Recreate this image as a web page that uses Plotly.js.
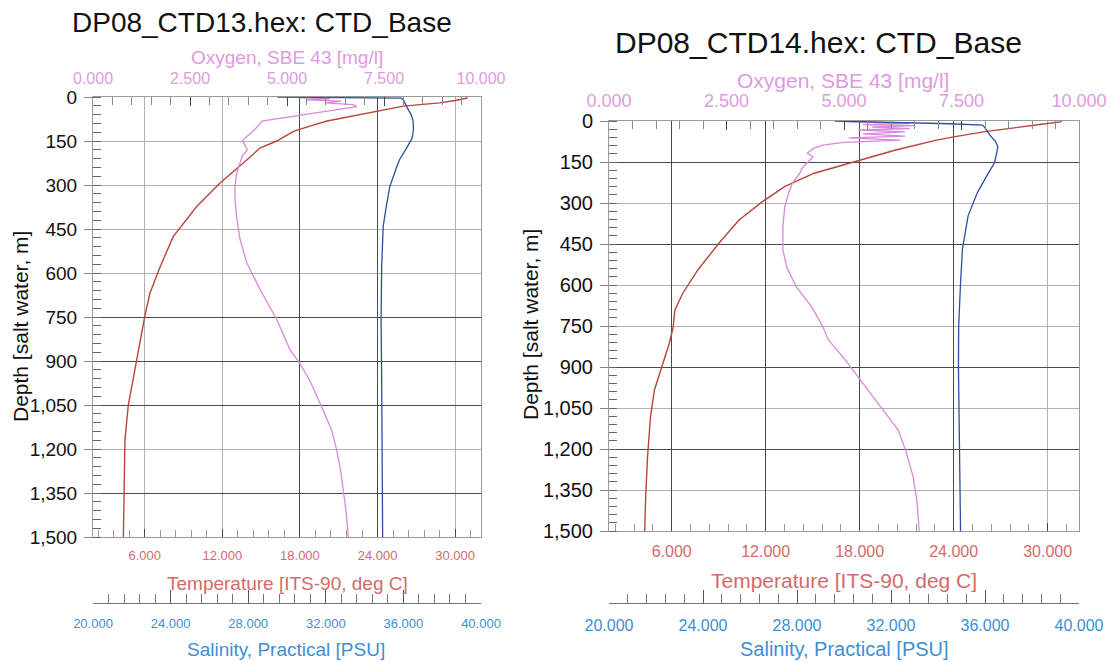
<!DOCTYPE html>
<html>
<head>
<meta charset="utf-8">
<script src="https://cdn.plot.ly/plotly-3.0.1.min.js"></script>
<style>
html, body { margin: 0; padding: 0; background: #ffffff; }
#chart { width: 1113px; height: 662px; }
</style>
</head>
<body>
<div id="chart"></div>
<script>
// ---------------- DATA ----------------
// CTD13 (left panel)
const ctd13TempDepth = [0, 4, 12, 20, 31, 48, 65, 82, 100, 117, 150, 174, 203, 254, 294, 374, 476, 578, 669, 749, 820, 896, 970, 1050, 1169, 1306, 1400, 1500];
const ctd13Temp      = [30.9, 30.9, 30.0, 28.8, 26.0, 24.0, 22.0, 20.1, 18.7, 17.5, 16.2, 14.9, 14.2, 12.85, 11.8, 10.0, 8.2, 7.2, 6.4, 6.0, 5.7, 5.4, 5.05, 4.73, 4.47, 4.4, 4.37, 4.35];

const ctd13OxyDepth  = [2, 6, 10, 14, 20, 26, 33, 45, 60, 82, 95, 107, 120, 135, 150, 165, 180, 200, 226, 260, 304, 349, 406, 485, 564, 655, 757, 862, 908, 970, 1044, 1135, 1203, 1270, 1340, 1420, 1500];
const ctd13Oxy       = [5.3, 6.1, 5.5, 6.4, 6.0, 6.7, 6.8, 6.2, 5.4, 4.35, 4.28, 4.2, 4.1, 3.96, 3.85, 3.92, 3.98, 3.85, 3.79, 3.70, 3.66, 3.66, 3.70, 3.79, 3.96, 4.30, 4.73, 5.08, 5.33, 5.6, 5.85, 6.15, 6.28, 6.38, 6.45, 6.53, 6.58];

const ctd13SalDepth  = [0, 1, 2, 4, 10, 25, 37, 60, 82, 110, 140, 170, 214, 235, 305, 380, 441, 578, 760, 965, 1200, 1500];
const ctd13Sal       = [29.5, 33.0, 35.5, 35.9, 36.0, 36.1, 36.2, 36.4, 36.5, 36.52, 36.45, 36.2, 35.8, 35.67, 35.3, 35.1, 34.96, 34.88, 34.85, 34.88, 34.9, 34.93];

// CTD14 (right panel)
const ctd14TempDepth = [0, 3, 12, 22, 39, 58, 70, 106, 150, 191, 240, 295, 362, 448, 545, 631, 692, 753, 813, 899, 984, 1082, 1228, 1375, 1500];
const ctd14Temp      = [30.9, 30.8, 29.6, 28.2, 26.0, 24.0, 22.9, 20.3, 17.6, 15.1, 13.2, 11.8, 10.3, 9.0, 7.67, 6.7, 6.2, 6.1, 5.85, 5.37, 4.9, 4.65, 4.46, 4.34, 4.28];

const ctd14OxyDepth  = [2, 5, 9, 13, 17, 22, 28, 33, 40, 47, 55, 62, 70, 78, 88, 100, 118, 132, 148, 170, 191, 228, 264, 313, 386, 472, 533, 606, 679, 753, 801, 875, 948, 1057, 1130, 1204, 1301, 1387, 1484, 1500];
const ctd14Oxy       = [5.0, 5.8, 6.4, 5.4, 6.5, 5.6, 6.4, 5.3, 6.3, 5.4, 6.3, 5.1, 6.2, 5.0, 4.55, 4.35, 4.22, 4.34, 4.24, 4.12, 4.06, 3.9, 3.82, 3.74, 3.70, 3.70, 3.78, 3.98, 4.31, 4.55, 4.67, 5.03, 5.35, 5.83, 6.15, 6.31, 6.47, 6.55, 6.59, 6.6];

const ctd14SalDepth  = [0, 3, 6, 10, 15, 25, 51, 75, 95, 120, 154, 188, 245, 261, 347, 469, 591, 750, 900, 1100, 1300, 1500];
const ctd14Sal       = [29.6, 31.0, 33.0, 34.5, 35.9, 36.0, 36.2, 36.45, 36.55, 36.5, 36.4, 36.16, 35.8, 35.68, 35.28, 35.04, 34.96, 34.88, 34.87, 34.9, 34.93, 34.96];

// Axis ranges and labels
const tempRange  = [2, 32];
const oxyRange   = [0, 10];
const salRange   = [20, 40];
const depthRange = [1500, 0];

const panelTitles = ['DP08_CTD13.hex: CTD_Base', 'DP08_CTD14.hex: CTD_Base'];
const oxyTitle   = 'Oxygen, SBE 43 [mg/l]';
const depthTitle = 'Depth [salt water, m]';
const tempTitle  = 'Temperature [ITS-90, deg C]';
const salTitle   = 'Salinity, Practical [PSU]';

// gridlines drawn darker in the reference
const ctd13DarkDepthGrid = [750, 900, 1050, 1350];
const ctd13DarkTempGrid  = [18, 24];
const ctd14DarkDepthGrid = [150, 450, 900, 1200];
const ctd14DarkTempGrid  = [6, 12, 18, 24];

// ---------------- STYLE / LAYOUT ----------------
const W = 1113, H = 662;
const FONT = '"Liberation Sans", Arial, Helvetica, sans-serif';
const COL = {
  temp: '#b8453b', oxy: '#d98ad9', sal: '#2d4f9f',
  tempLab: '#d46a6a', oxyLab: '#e09ae0', salLab: '#3d8fd4',
  grid: '#b0b0b0', dark: '#4a4a4a', frame: '#9a9a9a'
};
const px = x => x / W;
const py = y => 1 - y / H;
const key = id => id[0] + 'axis' + id.slice(1);

const layout = {
  width: W, height: H,
  margin: {l: 0, r: 0, t: 0, b: 0, autoexpand: false},
  paper_bgcolor: '#ffffff', plot_bgcolor: '#ffffff',
  showlegend: false,
  font: {family: FONT, color: '#111'},
  annotations: []
};
const traces = [];

function addPanel(p) {
  const ids = p.ids;
  // temperature axis (bottom of plot)
  layout[key(ids.xt)] = {
    domain: [px(p.x0), px(p.x1)], anchor: ids.y, range: tempRange,
    tick0: 0, dtick: 6, tickformat: '.3f',
    ticks: 'inside', ticklen: 8, tickwidth: 1, tickcolor: '#444',
    tickfont: {size: p.f.temp, color: COL.tempLab, family: FONT}, ticklabelstandoff: p.so.temp,
    showgrid: true, gridcolor: COL.grid, gridwidth: 1,
    showline: true, linecolor: COL.frame, linewidth: 1, zeroline: false,
    minor: {tick0: 0, dtick: 1.2, ticks: 'inside', ticklen: 7, tickcolor: '#9a9a9a', showgrid: false},
    fixedrange: true
  };
  // oxygen axis (top)
  layout[key(ids.xo)] = {
    overlaying: ids.xt, anchor: ids.y, side: 'top', range: oxyRange,
    tick0: 0, dtick: 2.5, tickformat: '.3f',
    ticks: 'inside', ticklen: 9, tickwidth: 1, tickcolor: '#444',
    tickfont: {size: p.f.oxy, color: COL.oxyLab, family: FONT}, ticklabelstandoff: p.so.oxy,
    showgrid: false, showline: true, linecolor: COL.frame, linewidth: 1, zeroline: false,
    minor: {tick0: 0, dtick: 0.5, ticks: 'inside', ticklen: 8, tickcolor: '#8a8a8a', showgrid: false},
    fixedrange: true
  };
  // salinity axis (free, below)
  layout[key(ids.xs)] = {
    overlaying: ids.xt, anchor: 'free', position: py(603), side: 'bottom', range: salRange,
    tick0: 20, dtick: 4, tickformat: '.3f',
    ticks: 'inside', ticklen: 13, tickwidth: 1, tickcolor: '#555',
    tickfont: {size: p.f.sal, color: COL.salLab, family: FONT}, ticklabelstandoff: p.so.sal,
    showgrid: false, showline: true, linecolor: '#777', linewidth: 1, zeroline: false,
    minor: {tick0: 20, dtick: 0.8, ticks: 'inside', ticklen: 9, tickcolor: '#777', showgrid: false},
    fixedrange: true
  };
  // dark vertical gridlines
  layout[key(ids.xg)] = {
    overlaying: ids.xt, anchor: ids.y, range: tempRange,
    tickvals: p.darkT, showticklabels: false, ticks: '',
    showgrid: true, gridcolor: COL.dark, gridwidth: 1,
    showline: false, zeroline: false, fixedrange: true
  };
  // depth axis
  layout[key(ids.y)] = {
    domain: [py(p.y1), py(p.y0)], anchor: ids.xt, range: depthRange,
    tick0: 0, dtick: 150, tickformat: ',d',
    ticks: 'outside', ticklen: 8, tickwidth: 1, tickcolor: '#888',
    tickfont: {size: p.f.depth, color: '#111', family: FONT}, ticklabelstandoff: p.so.depth,
    showgrid: true, gridcolor: COL.grid, gridwidth: 1,
    showline: true, linecolor: COL.frame, linewidth: 1, mirror: true, zeroline: false,
    minor: {tick0: 0, dtick: 30, ticks: 'inside', ticklen: 8, tickcolor: '#666', showgrid: false},
    fixedrange: true
  };
  // dark horizontal gridlines
  layout[key(ids.yg)] = {
    overlaying: ids.y, anchor: ids.xt, range: depthRange,
    tickvals: p.darkD, showticklabels: false, ticks: '',
    showgrid: true, gridcolor: COL.dark, gridwidth: 1,
    showline: false, zeroline: false, fixedrange: true
  };

  // traces
  traces.push({
    type: 'scatter', mode: 'lines', x: p.oxy, y: p.oxyD, xaxis: ids.xo, yaxis: ids.y,
    line: {color: COL.oxy, width: 1.3}, name: oxyTitle, hoverinfo: 'skip'
  });
  traces.push({
    type: 'scatter', mode: 'lines', x: p.sal, y: p.salD, xaxis: ids.xs, yaxis: ids.y,
    line: {color: COL.sal, width: 1.3}, name: salTitle, hoverinfo: 'skip'
  });
  traces.push({
    type: 'scatter', mode: 'lines', x: p.temp, y: p.tempD, xaxis: ids.xt, yaxis: ids.y,
    line: {color: COL.temp, width: 1.4}, name: tempTitle, hoverinfo: 'skip'
  });
  // empty traces so the grid overlay subplots exist
  traces.push({type: 'scatter', mode: 'none', x: [], y: [], xaxis: ids.xg, yaxis: ids.y, hoverinfo: 'skip'});
  traces.push({type: 'scatter', mode: 'none', x: [], y: [], xaxis: ids.xt, yaxis: ids.yg, hoverinfo: 'skip'});

  // titles as annotations
  const ann = (text, x, y, size, color, angle) => layout.annotations.push({
    text: text, xref: 'paper', yref: 'paper', x: px(x), y: py(y),
    xanchor: 'center', yanchor: 'middle', showarrow: false,
    textangle: angle || 0, font: {family: FONT, size: size, color: color}
  });
  ann(p.title, p.titlePos[0], p.titlePos[1], p.f.title, '#111');
  ann(oxyTitle, p.oxyTitlePos[0], p.oxyTitlePos[1], p.f.axis, COL.oxyLab);
  ann(depthTitle, p.depthTitlePos[0], p.depthTitlePos[1], p.f.depthTitle, '#111', -90);
  ann(tempTitle, p.tempTitlePos[0], p.tempTitlePos[1], p.f.axis, COL.tempLab);
  ann(salTitle, p.salTitlePos[0], p.salTitlePos[1], p.f.sal2 || p.f.axis, COL.salLab);
}

addPanel({
  ids: {xt: 'x', xo: 'x2', xs: 'x3', xg: 'x4', y: 'y', yg: 'y2'},
  x0: 93, x1: 481, y0: 97, y1: 537,
  f: {title: 28, axis: 19, sal2: 19, depthTitle: 21, depth: 19, oxy: 16, temp: 13, sal: 13},
  so: {temp: 6, oxy: 6, sal: 8, depth: 3},
  title: panelTitles[0], titlePos: [262, 23], oxyTitlePos: [287, 57],
  depthTitlePos: [20, 327], tempTitlePos: [287, 583], salTitlePos: [286, 649],
  temp: ctd13Temp, tempD: ctd13TempDepth, oxy: ctd13Oxy, oxyD: ctd13OxyDepth,
  sal: ctd13Sal, salD: ctd13SalDepth,
  darkD: ctd13DarkDepthGrid, darkT: ctd13DarkTempGrid
});

addPanel({
  ids: {xt: 'x5', xo: 'x6', xs: 'x7', xg: 'x8', y: 'y3', yg: 'y4'},
  x0: 609, x1: 1079, y0: 121, y1: 531,
  f: {title: 30, axis: 21, sal2: 20, depthTitle: 21, depth: 20, oxy: 18, temp: 16, sal: 16},
  so: {temp: 6, oxy: 6, sal: 8, depth: 3},
  title: panelTitles[1], titlePos: [818, 43], oxyTitlePos: [843, 80],
  depthTitlePos: [530, 325], tempTitlePos: [844, 580], salTitlePos: [844, 649],
  temp: ctd14Temp, tempD: ctd14TempDepth, oxy: ctd14Oxy, oxyD: ctd14OxyDepth,
  sal: ctd14Sal, salD: ctd14SalDepth,
  darkD: ctd14DarkDepthGrid, darkT: ctd14DarkTempGrid
});

Plotly.newPlot('chart', traces, layout, {staticPlot: true, displayModeBar: false});
</script>
</body>
</html>
